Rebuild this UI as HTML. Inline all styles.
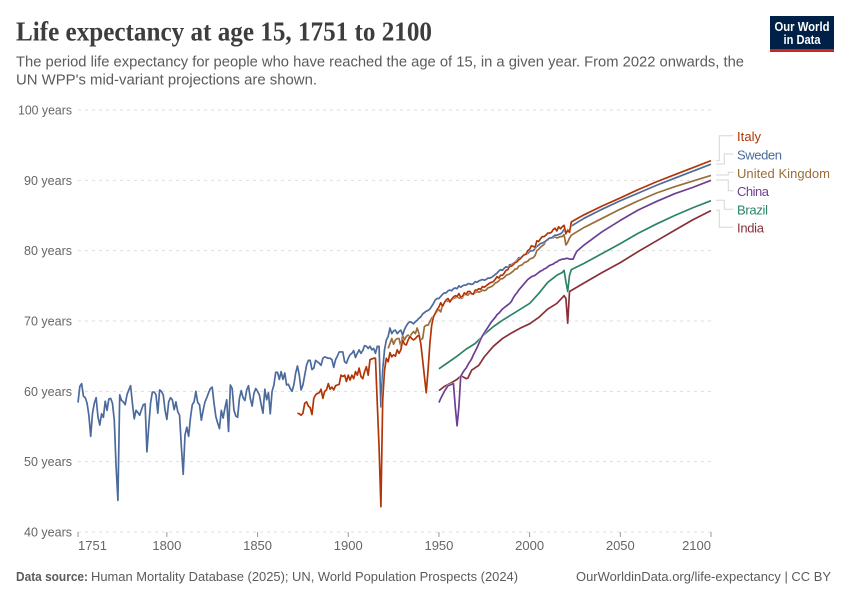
<!DOCTYPE html>
<html lang="en">
<head>
<meta charset="utf-8">
<title>Life expectancy at age 15, 1751 to 2100</title>
<style>
html,body{margin:0;padding:0;background:#fff;width:850px;height:600px;overflow:hidden}
svg{display:block}
text{font-family:"Liberation Sans",sans-serif}
</style>
</head>
<body>
<svg id="chart" xmlns="http://www.w3.org/2000/svg" width="850" height="600" viewBox="0 0 850 600">
  <text x="16" y="40.5" textLength="416" lengthAdjust="spacingAndGlyphs" style="font-family:'Liberation Serif',serif;font-size:27px;font-weight:bold;fill:#3d3d3d">Life expectancy at age 15, 1751 to 2100</text>
  <text x="16" y="66.5" textLength="728" lengthAdjust="spacingAndGlyphs" style="font-size:14.5px;fill:#5b5b5b">The period life expectancy for people who have reached the age of 15, in a given year. From 2022 onwards, the</text>
  <text x="16" y="84.5" textLength="301" lengthAdjust="spacingAndGlyphs" style="font-size:14.5px;fill:#5b5b5b">UN WPP's mid-variant projections are shown.</text>

  <g>
    <rect x="770" y="16" width="64" height="36" fill="#002147"/>
    <rect x="770" y="49" width="64" height="3" fill="#ce261e"/>
    <text x="802" y="31" text-anchor="middle" textLength="55" lengthAdjust="spacingAndGlyphs" style="font-size:12.5px;font-weight:bold;fill:#fff">Our World</text>
    <text x="802" y="44" text-anchor="middle" textLength="37" lengthAdjust="spacingAndGlyphs" style="font-size:12.5px;font-weight:bold;fill:#fff">in Data</text>
  </g>

  <g id="grid"></g>
  <g id="xaxis"></g>
  <g id="lines"></g>

  <g fill="none" stroke="#d5d5d5" stroke-width="1">
    <path d="M716 160.7H719.3V135.7H733.3"/>
    <path d="M716 164H724.3V154H733.3"/>
    <path d="M716 175H728.3V172.3H733.3"/>
    <path d="M716 180H728.3V190.7H733.3"/>
    <path d="M716 200.3H724.3V209.3H733.3"/>
    <path d="M716 210.3H719.3V227.3H733.3"/>
  </g>

  <g style="font-size:13px">
    <text x="737" y="141" textLength="24" lengthAdjust="spacing" fill="#b13507">Italy</text>
    <text x="737" y="159.5" textLength="45" lengthAdjust="spacing" fill="#4c6a9c">Sweden</text>
    <text x="737" y="178" textLength="93" lengthAdjust="spacing" fill="#996d39">United Kingdom</text>
    <text x="737" y="196" textLength="32" lengthAdjust="spacing" fill="#6d3e91">China</text>
    <text x="737" y="214.5" textLength="31" lengthAdjust="spacing" fill="#2c8465">Brazil</text>
    <text x="737" y="232.5" textLength="27" lengthAdjust="spacing" fill="#883039">India</text>
  </g>

  <text x="16" y="581" textLength="72" lengthAdjust="spacingAndGlyphs" style="font-size:13px;font-weight:bold;fill:#5b5b5b">Data source:</text>
  <text x="91" y="581" textLength="427" lengthAdjust="spacingAndGlyphs" style="font-size:13px;fill:#5b5b5b">Human Mortality Database (2025); UN, World Population Prospects (2024)</text>
  <text x="576" y="581" textLength="255" lengthAdjust="spacingAndGlyphs" style="font-size:13px;fill:#5b5b5b">OurWorldinData.org/life-expectancy | CC BY</text>
</svg>

<script>
const yTicks = [40, 50, 60, 70, 80, 90, 100];
const xTicks = [1751, 1800, 1850, 1900, 1950, 2000, 2050, 2100];
const projectionYears = [2023, 2030, 2040, 2050, 2060, 2070, 2080, 2090, 2100];

const swedenStart = 1751;
const swedenValues = [
58.4,60.7,61.1,59.3,59.1,58.3,56.6,53.6,56.9,58.3,
59.1,56.4,55.2,56.8,56.3,58.6,57.3,58.9,59.0,58.3,
55.9,49.3,44.5,59.5,58.7,58.5,58.1,59.5,60.2,60.8,
58.3,56.1,57.3,57.0,56.6,57.4,58.1,58.2,51.4,55.0,
58.3,59.9,59.9,59.5,56.9,60.2,60.0,59.5,57.3,56.0,
58.5,59.1,58.8,57.4,58.5,57.1,56.6,52.1,48.2,53.8,
54.9,53.6,56.2,58.1,58.5,60.0,58.4,58.1,55.9,57.3,
58.5,59.1,59.8,60.4,60.6,58.3,56.4,55.5,54.7,57.3,
56.2,57.6,58.8,54.3,60.9,60.4,57.3,56.5,56.3,59.0,
60.1,59.1,58.7,60.2,60.8,59.0,57.9,59.7,60.4,60.0,
59.5,58.1,56.9,60.3,58.8,59.8,56.8,60.0,60.9,62.7,
62.7,61.7,62.8,61.7,62.6,60.9,61.0,60.4,60.0,60.9,
62.6,63.6,62.3,60.2,60.9,62.3,63.7,64.4,64.4,63.1,
63.3,64.4,64.2,64.0,63.7,64.7,64.9,64.8,64.7,64.7,
64.5,63.4,64.5,65.0,65.6,65.6,65.6,64.2,64.0,64.7,
65.2,65.4,65.8,64.8,65.4,65.9,65.4,65.8,66.5,66.4,
66.1,66.4,65.9,66.1,65.4,66.4,66.4,57.8,63.0,65.9,
67.3,67.8,69.0,68.2,68.6,68.7,68.2,68.5,68.7,68.0,
68.8,69.3,69.7,69.9,69.8,69.6,69.9,70.1,70.4,70.6,
71.0,71.2,71.4,71.5,71.7,72.1,72.5,73.0,73.2,
73.2,73.5,73.8,74.0,74.0,74.3,74.4,74.3,74.6,74.7,
74.6,75.0,74.8,75.0,75.1,75.1,75.3,75.3,75.2,75.3,
75.6,75.5,75.7,75.8,75.9,75.8,75.9,76.1,76.1,76.2,
76.4,76.6,76.8,77.1,77.3,77.2,77.5,77.7,77.6,78.0,
78.0,78.2,78.4,78.6,79.0,79.0,79.2,79.5,79.5,79.6,
79.9,80.0,80.0,80.3,80.6,80.8,81.0,81.1,81.2,81.4,
81.6,81.8,81.8,82.0,82.2,82.2,82.3,82.4,82.6,83.1,
82.4,83.0,82.9];
const swedenProjection = [83.5, 84.6, 85.9, 87.1, 88.2, 89.3, 90.3, 91.3, 92.3];

const italyStart = 1872;
const italyValues = [
56.9,56.8,56.6,56.9,58.3,58.5,57.9,57.7,56.7,59.0,
59.5,59.7,59.8,60.3,59.0,60.0,60.2,61.1,60.3,60.6,
60.2,60.8,60.9,61.0,62.3,62.1,62.3,61.4,62.3,61.6,
62.3,61.8,62.8,62.3,63.3,62.1,61.8,62.8,63.5,62.3,
64.5,64.6,64.7,64.7,58.3,52.0,43.6,58.8,63.0,64.7,
64.2,65.5,64.9,65.2,65.0,65.9,65.4,65.9,67.3,66.7,
66.6,67.3,67.8,67.5,67.3,67.5,67.8,68.0,66.8,64.5,
62.1,59.8,63.0,66.8,69.4,70.6,71.1,71.6,
72.0,72.6,72.1,72.6,73.0,73.2,72.7,73.1,73.4,73.6,
73.5,73.9,73.4,73.5,74.0,73.8,74.2,74.2,73.9,73.8,
74.4,74.4,74.6,74.5,74.9,74.8,75.0,75.2,75.4,75.5,
75.6,75.9,76.3,76.1,76.5,76.5,76.8,77.2,77.3,77.8,
77.8,78.0,78.3,78.4,78.7,78.9,79.2,79.4,79.5,80.0,
80.2,80.7,80.6,80.5,81.4,81.3,81.7,82.0,82.0,82.2,
82.5,82.5,82.6,83.0,83.2,82.8,83.4,83.1,83.4,83.6,
82.4,82.9,82.6];
const italyProjection = [84.1, 85.1, 86.35, 87.5, 88.7, 89.8, 90.8, 91.8, 92.8];

const ukStart = 1922;
const ukValues = [
66.1,66.8,67.5,66.7,67.3,67.5,67.5,66.4,68.0,67.3,
67.8,68.0,67.8,68.2,68.5,68.2,69.0,68.2,67.3,67.5,
69.2,69.4,69.4,69.9,70.4,70.7,71.0,71.4,
71.6,71.3,72.3,72.6,72.9,72.8,73.0,73.0,73.2,73.3,
73.4,73.3,73.2,73.3,73.8,73.7,73.7,74.0,73.8,73.9,
74.0,74.2,74.1,74.2,74.4,74.3,74.4,74.7,74.8,74.9,
75.1,75.4,75.5,75.7,76.0,76.0,76.2,76.5,76.6,76.7,
76.9,77.1,77.4,77.4,77.8,77.9,78.0,78.3,78.4,78.5,
78.8,78.9,79.0,79.3,80.0,80.2,80.5,80.7,80.9,81.4,
81.5,81.8,81.8,81.8,82.0,81.8,81.9,82.0,82.0,82.3,
80.8,81.2,81.8];
const ukProjection = [82.2, 83.3, 84.6, 85.9, 87.1, 88.2, 89.1, 89.9, 90.7];

const chinaStart = 1950;
const chinaValues = [
58.4,59.0,59.5,60.0,60.4,60.8,60.9,61.0,61.1,57.8,
55.1,57.8,62.1,62.6,63.0,63.3,63.8,64.2,64.6,65.2,
65.7,66.2,66.8,67.4,67.9,68.3,68.7,69.1,69.5,69.9,
70.2,70.5,70.9,71.1,71.4,71.7,71.9,72.1,72.3,72.5,
72.8,73.3,73.7,74.0,74.4,74.7,75.0,75.3,75.6,75.9,
76.1,76.3,76.4,76.5,76.7,76.9,77.1,77.2,77.4,77.5,
77.7,77.9,78.0,78.1,78.3,78.4,78.6,78.7,78.8,78.8,
78.9,78.9,78.8,78.8,78.8,79.4,79.9];
const chinaProjectionYears = [2030, 2040, 2050, 2060, 2070, 2080, 2090, 2100];
const chinaProjection = [80.8, 82.7, 84.3, 85.8, 87.0, 88.1, 89.0, 90.0];

const brazilYears = [1950,1955,1960,1965,1970,1975,1980,1985,1990,1995,2000,2005,2010,2015,2018,2019,2020,2021,2022,2023,2030,2040,2050,2060,2070,2080,2090,2100];
const brazilValues = [63.2,64.1,65.0,66.0,66.8,68.1,69.2,70.1,70.9,71.7,72.5,73.9,75.5,76.5,76.9,77.2,75.6,74.2,76.5,77.3,78.2,79.6,81.0,82.5,83.8,85.0,86.1,87.1];

const indiaYears = [1950,1953,1956,1960,1962,1963,1965,1966,1968,1972,1975,1980,1985,1990,1995,2000,2005,2010,2015,2019,2020,2021,2022,2030,2040,2050,2060,2070,2080,2090,2100];
const indiaValues = [60.1,60.7,61.1,61.7,62.2,62.1,61.8,61.9,63.0,63.7,64.9,66.4,67.5,68.3,69.0,69.6,70.5,71.7,72.5,73.6,73.2,69.7,74.2,75.4,76.9,78.3,79.9,81.4,82.9,84.4,85.7];

const NS = 'http://www.w3.org/2000/svg';
const plotLeft = 78, plotRight = 711, plotTop = 110, plotBottom = 532;
const xMin = 1751, xMax = 2100, yMin = 40, yMax = 100;
function xScale(year) { return plotLeft + (year - xMin) / (xMax - xMin) * (plotRight - plotLeft); }
function yScale(v) { return plotBottom - (v - yMin) / (yMax - yMin) * (plotBottom - plotTop); }
function yearsFrom(start, values) { return values.map(function (_, i) { return start + i; }); }
function linePath(years, values) {
  return years.map(function (y, i) { return (i ? 'L' : 'M') + xScale(y).toFixed(2) + ' ' + yScale(values[i]).toFixed(2); }).join('');
}

const grid = document.getElementById('grid');
yTicks.forEach(function (t) {
  const ln = document.createElementNS(NS, 'line');
  
  
  ln.setAttribute('x1', plotLeft);
  ln.setAttribute('x2', plotRight);
  ln.setAttribute('y1', yScale(t));
  ln.setAttribute('y2', yScale(t));
  ln.setAttribute('stroke', '#dddddd');
  ln.setAttribute('stroke-dasharray', '3 4');
  grid.appendChild(ln);
  const lb = document.createElementNS(NS, 'text');
  
  
  lb.setAttribute('x', 72);
  lb.setAttribute('y', yScale(t) + 4.5);
  lb.setAttribute('text-anchor', 'end');
  lb.setAttribute('textLength', t >= 100 ? 54 : 48);
  lb.setAttribute('lengthAdjust', 'spacingAndGlyphs');
  lb.setAttribute('style', 'font-size:13px;fill:#666');
  lb.textContent = t + ' years';
  grid.appendChild(lb);
});

const xaxis = document.getElementById('xaxis');
xTicks.forEach(function (t, i) {
  const tk = document.createElementNS(NS, 'line');
  
  
  tk.setAttribute('x1', xScale(t));
  tk.setAttribute('x2', xScale(t));
  tk.setAttribute('y1', plotBottom);
  tk.setAttribute('y2', plotBottom + 5);
  tk.setAttribute('stroke', '#999');
  xaxis.appendChild(tk);
  const lb = document.createElementNS(NS, 'text');
  
  
  lb.setAttribute('x', xScale(t));
  lb.setAttribute('y', 550);
  lb.setAttribute('text-anchor', i === 0 ? 'start' : (i === xTicks.length - 1 ? 'end' : 'middle'));
  lb.setAttribute('style', 'font-size:13px;fill:#666');
  lb.textContent = t;
  xaxis.appendChild(lb);
});

const lines = document.getElementById('lines');
function drawSeries(id, color, years, values) {
  const halo = document.createElementNS(NS, 'path');
  
  
  halo.setAttribute('d', linePath(years, values));
  halo.setAttribute('fill', 'none');
  halo.setAttribute('stroke', '#fff');
  halo.setAttribute('stroke-width', '2.4');
  halo.setAttribute('stroke-linejoin', 'round');
  lines.appendChild(halo);
  const p = document.createElementNS(NS, 'path');
  
  
  p.setAttribute('d', linePath(years, values));
  p.setAttribute('fill', 'none');
  p.setAttribute('stroke', color);
  p.setAttribute('stroke-width', '1.7');
  p.setAttribute('stroke-linejoin', 'round');
  lines.appendChild(p);
}
drawSeries('india', '#883039', indiaYears, indiaValues);
drawSeries('brazil', '#2c8465', brazilYears, brazilValues);
drawSeries('china', '#6d3e91', yearsFrom(chinaStart, chinaValues).concat(chinaProjectionYears), chinaValues.concat(chinaProjection));
drawSeries('united-kingdom', '#996d39', yearsFrom(ukStart, ukValues).concat(projectionYears), ukValues.concat(ukProjection));
drawSeries('sweden', '#4c6a9c', yearsFrom(swedenStart, swedenValues).concat(projectionYears), swedenValues.concat(swedenProjection));
drawSeries('italy', '#b13507', yearsFrom(italyStart, italyValues).concat(projectionYears), italyValues.concat(italyProjection));
</script>
</body>
</html>
